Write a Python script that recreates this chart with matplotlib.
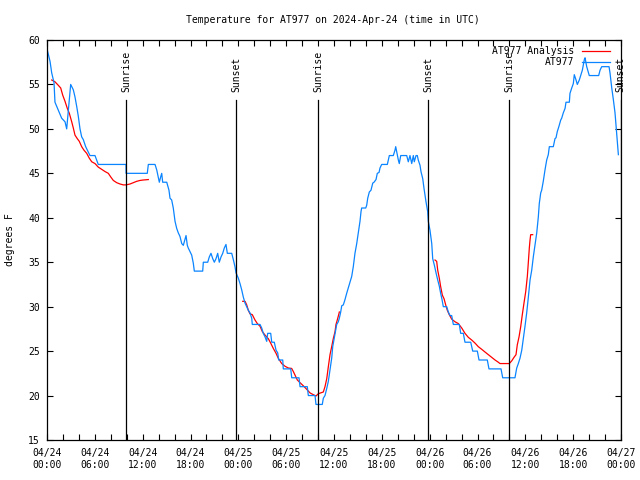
import datetime as dt
import matplotlib
matplotlib.use("Agg")
import matplotlib.pyplot as plt
import matplotlib.dates as mdates

# ---------------- data ----------------
title = "Temperature for AT977 on 2024-Apr-24 (time in UTC)"
ylabel = "degrees F"
start = dt.datetime(2024, 4, 24, 0, 0)

# observations (hours since 04/24 00:00 UTC, degrees F)
obs_hours = [0.00, 0.38, 0.59, 0.88, 1.00, 1.42, 1.84, 2.26, 2.47, 2.67, 2.97, 3.30, 3.51, 3.73,
             3.93, 4.14, 4.35, 4.55, 4.85, 5.18, 5.39, 6.02, 6.23, 6.43, 9.91, 9.92, 12.58, 12.71,
             13.55, 13.76, 14.09, 14.26, 14.39, 14.51, 15.02, 15.30, 15.43, 15.64, 15.84, 16.06,
             16.27, 16.47, 16.68, 16.90, 17.10, 17.31, 17.44, 17.60, 17.72, 17.94, 18.15, 18.35,
             18.48, 19.53, 19.61, 20.16, 20.36, 20.57, 20.79, 20.99, 21.20, 21.41, 21.61, 21.83,
             22.04, 22.24, 22.45, 22.62, 23.17, 23.37, 23.58, 23.71, 24.00, 24.21, 24.42, 24.62,
             24.84, 25.05, 25.25, 25.46, 25.68, 25.75, 26.72, 26.93, 27.13, 27.35, 27.56, 27.68,
             28.06, 28.19, 28.51, 28.73, 28.94, 29.06, 29.57, 29.64, 30.57, 30.70, 31.61, 31.74,
             32.65, 32.78, 33.62, 33.74, 34.53, 34.66, 34.87, 35.09, 35.29, 35.50, 35.71, 35.84,
             36.00, 36.13, 36.34, 36.54, 36.67, 36.84, 36.97, 37.17, 37.38, 37.59, 37.79, 38.01,
             38.22, 38.42, 38.63, 38.85, 39.05, 39.26, 39.39, 39.47, 39.98, 40.10, 40.23, 40.43,
             40.64, 40.86, 41.02, 41.27, 41.43, 41.65, 41.77, 41.98, 42.69, 42.81, 42.94, 43.44,
             43.65, 43.74, 43.87, 44.07, 44.19, 44.37, 45.12, 45.32, 45.53, 45.75, 45.95, 46.07,
             46.29, 46.45, 46.57, 46.79, 46.91, 47.13, 47.29, 47.54, 47.75, 47.83, 48.04, 48.26,
             48.38, 48.58, 48.80, 49.01, 49.21, 49.38, 49.55, 49.71, 50.14, 50.34, 50.55, 50.76,
             50.97, 51.72, 51.89, 52.22, 52.43, 53.15, 53.40, 53.98, 54.19, 55.23, 55.44, 56.95,
             57.16, 58.70, 58.92, 59.12, 59.33, 59.55, 59.75, 59.96, 60.17, 60.37, 60.59, 60.80,
             61.00, 61.21, 61.43, 61.63, 61.75, 61.93, 62.05, 62.25, 62.47, 62.68, 62.88, 63.01,
             63.51, 63.72, 63.85, 64.01, 64.22, 64.44, 64.56, 64.76, 64.98, 65.10, 65.52, 65.60,
             65.82, 66.02, 66.14, 66.36, 66.52, 66.77, 66.98, 67.15, 67.40, 67.49, 67.70, 68.02,
             69.20, 69.37, 69.58, 70.50, 70.62, 70.84, 71.04, 71.25, 71.46, 71.67]
obs_temps = [59.0, 57.6, 56.3, 55.2, 53.0, 52.1, 51.2, 50.8, 50.0, 52.0, 55.0, 54.4, 53.6, 52.5,
             51.4, 50.0, 49.1, 48.8, 48.0, 47.4, 47.0, 47.0, 46.5, 46.0, 46.0, 45.0, 45.0, 46.0,
             46.0, 45.4, 44.0, 44.6, 45.0, 44.0, 44.0, 43.1, 42.2, 42.0, 41.1, 39.6,
             38.8, 38.3, 37.9, 37.1, 36.9, 37.6, 38.0, 36.9, 36.6, 36.2, 35.8, 34.9,
             34.0, 34.0, 35.0, 35.0, 35.6, 36.0, 35.4, 35.0, 35.4, 36.0, 35.0, 35.6,
             36.0, 36.6, 37.0, 36.0, 36.0, 35.3, 34.5, 33.8, 33.2, 32.6, 31.9, 31.1,
             30.4, 30.0, 29.6, 29.3, 28.7, 28.0, 28.0, 27.6, 27.0, 26.6, 26.1, 27.0,
             27.0, 26.0, 26.0, 25.1, 24.8, 24.0, 24.0, 23.0, 23.0, 22.0, 22.0, 21.0,
             21.0, 20.0, 20.0, 19.0, 19.0, 19.7, 20.0, 20.8, 21.6, 22.9, 24.2, 25.5,
             26.3, 27.0, 28.0, 28.3, 28.7, 29.4, 30.1, 30.2, 30.8, 31.5, 32.1, 32.8,
             33.4, 34.5, 36.0, 37.1, 38.3, 39.6, 40.7, 41.1, 41.1, 41.4, 42.2, 42.9,
             43.1, 43.9, 44.0, 44.3, 45.0, 45.1, 45.6, 46.0, 46.0, 46.5, 47.0, 47.0,
             47.6, 48.0, 47.4, 46.5, 46.1, 47.0, 47.0, 46.3, 47.0, 46.1, 47.0, 46.3,
             47.0, 47.0, 46.5, 45.9, 45.2, 44.4, 43.3, 41.8, 40.7, 39.6, 38.6, 37.1,
             35.4, 34.7, 33.8, 33.0, 32.3, 31.5, 30.8, 30.0, 30.0, 29.4, 29.0, 29.0,
             28.0, 28.0, 27.0, 27.0, 26.0, 26.0, 25.0, 25.0, 24.0, 24.0, 23.0, 23.0,
             22.0, 22.0, 23.1, 23.6, 24.2, 25.1, 26.4, 27.8, 29.3, 31.0, 33.0, 34.1,
             35.6, 36.9, 38.3, 40.1, 41.6, 42.8, 43.1, 44.1, 45.4, 46.5, 47.1, 48.0,
             48.0, 48.9, 49.0, 49.7, 50.3, 51.0, 51.2, 51.8, 52.3, 53.0, 53.0, 54.0,
             54.6, 55.1, 56.1, 55.5, 55.0, 55.5, 56.1, 56.6, 57.8, 58.0, 57.0, 56.0,
             56.0, 56.6, 57.0, 57.0, 56.3, 54.6, 53.3, 51.8, 49.5, 47.1]

# analysis (three separate segments)
ana_hours = [
    [0.59, 1.00, 1.42, 1.72, 1.97, 2.26, 2.55, 2.80, 3.10, 3.30, 3.51, 3.80, 4.05, 4.35, 4.64,
     4.98, 5.31, 5.61, 6.02, 6.43, 6.86, 7.28, 7.69, 7.99, 8.32, 8.74, 9.16, 9.57, 9.91, 10.41,
     10.83, 11.25, 11.67, 12.08, 12.71],
    [24.55, 24.84, 25.05, 25.25, 25.46, 25.75, 26.09, 26.38, 26.72, 27.01, 27.35, 27.76, 28.06,
     28.39, 28.73, 29.01, 29.44, 29.85, 30.27, 30.69, 30.90, 31.11, 31.40, 31.74, 32.15, 32.58,
     32.99, 33.40, 33.74, 34.03, 34.33, 34.66, 34.87, 35.09, 35.29, 35.50, 35.71, 35.91, 36.13,
     36.25, 36.41, 36.59, 36.67],
    [48.67, 48.88, 49.01, 49.21, 49.38, 49.59, 49.80, 50.01, 50.21, 50.46, 50.76, 51.18, 51.59,
     52.02, 52.43, 52.85, 53.27, 53.69, 54.10, 54.53, 54.94, 55.36, 55.78, 56.20, 56.61, 56.82,
     57.99, 58.29, 58.58, 58.83, 58.99, 59.21, 59.42, 59.62, 59.83, 60.05, 60.25, 60.37, 60.50,
     60.59, 60.67, 60.92],
]
ana_temps = [
    [55.5, 55.3, 54.9, 54.6, 53.8, 53.1, 52.3, 51.75, 50.8, 50.1, 49.3, 48.9, 48.6, 48.0, 47.6,
     47.25, 46.7, 46.3, 46.1, 45.7, 45.45, 45.2, 45.0, 44.6, 44.2, 43.95, 43.8, 43.7, 43.7, 43.8,
     43.95, 44.1, 44.2, 44.25, 44.3],
    [30.6, 30.6, 30.2, 29.6, 29.2, 29.1, 28.5, 28.1, 27.8, 27.2, 26.8, 26.4, 25.9,
     25.3, 24.75, 24.2, 23.6, 23.3, 23.1, 23.05, 22.7, 22.3, 21.75, 21.45, 21.1, 20.7,
     20.3, 20.1, 19.95, 20.2, 20.3, 20.4, 21.0, 21.9, 23.25, 24.6, 25.5, 26.4, 27.2,
     28.0, 28.5, 29.1, 29.4],
    [35.25, 35.1, 34.1, 33.2, 32.25, 31.3, 30.9, 30.2, 29.6, 29.1, 28.6, 28.3, 28.1,
     27.6, 27.0, 26.55, 26.25, 25.9, 25.5, 25.2, 24.9, 24.6, 24.3, 24.0, 23.75, 23.6,
     23.6, 23.9, 24.3, 24.6, 25.7, 26.6, 27.75, 29.1, 30.4, 31.7, 33.4, 34.9, 36.6,
     37.5, 38.1, 38.1],
]

# sunrise / sunset (hours since start)
sun_labels = ["Sunrise", "Sunset", "Sunrise", "Sunset", "Sunrise", "Sunset"]
sun_hours = [9.91, 23.71, 34.03, 47.83, 57.99, 71.96]

series_labels = ["AT977 Analysis", "AT977"]

# ---------------- plot ----------------
MONO = "DejaVu Sans Mono"
FS = 7
plt.rcParams["font.family"] = MONO
plt.rcParams["font.size"] = FS

def to_dt(hours):
    return [start + dt.timedelta(hours=h) for h in hours]

fig = plt.figure(figsize=(6.4, 4.8), dpi=100)
ax = fig.add_axes([47 / 640, 40 / 480, 574 / 640, 400 / 480])

RED = "#ff0000"
BLUE = "#0a84ff"

for i, (hh, tt) in enumerate(zip(ana_hours, ana_temps)):
    ax.plot(to_dt(hh), tt, color=RED, lw=0.9,
            label=series_labels[0] if i == 0 else None)
ax.plot(to_dt(obs_hours), obs_temps, color=BLUE, lw=0.9, label=series_labels[1])

line_top = 53.25
text_y = 54.15
for lab, h in zip(sun_labels, sun_hours):
    t = start + dt.timedelta(hours=h)
    ax.plot([t, t], [15, line_top], color="black", lw=0.9)
    ax.text(t, text_y, lab, rotation=90, ha="center", va="bottom",
            fontsize=FS, clip_on=False)

ax.set_xlim(start, start + dt.timedelta(hours=72))
ax.set_ylim(15, 60)
ax.set_yticks(range(15, 61, 5))

ax.xaxis.set_major_locator(mdates.HourLocator(byhour=range(0, 24, 6)))
ax.xaxis.set_minor_locator(mdates.HourLocator(byhour=range(0, 24, 2)))
ax.xaxis.set_major_formatter(mdates.DateFormatter("%m/%d\n%H:%M"))

ax.tick_params(axis="both", which="both", direction="in", top=True, right=True,
               length=4, width=0.8, labelsize=FS)
ax.tick_params(axis="x", which="major", pad=6)
ax.tick_params(axis="y", which="major", pad=5)
for lbl in ax.get_xticklabels():
    lbl.set_linespacing(1.25)
for s in ax.spines.values():
    s.set_linewidth(0.9)

leg = ax.legend(loc="upper right", frameon=False, markerfirst=False,
                bbox_to_anchor=((610 - 47) / 574, (440 - 46) / 400),
                borderaxespad=0, borderpad=0, handlelength=2.9,
                handletextpad=0.75, labelspacing=0.15, fontsize=FS)

fig.text(0.52, 1 - 20 / 480, title, ha="center", va="center", fontsize=FS)
fig.text(10 / 640, 0.5, ylabel, rotation=90, ha="center", va="center", fontsize=FS)

fig.savefig("out.png", dpi=100)
